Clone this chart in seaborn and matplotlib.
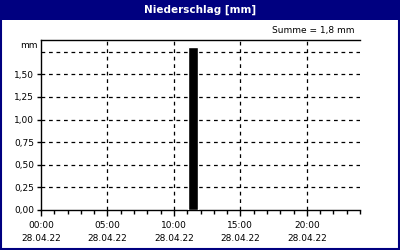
import matplotlib
matplotlib.use("Agg")
import matplotlib.pyplot as plt
import seaborn as sns
import pandas as pd
from matplotlib.patches import Rectangle
from matplotlib.ticker import MultipleLocator, FixedLocator

sns.set_theme(style="white")
plt.rcParams['font.family'] = ['DejaVu Sans']
plt.rcParams['text.color'] = 'black'
plt.rcParams['xtick.color'] = 'black'
plt.rcParams['ytick.color'] = 'black'

# data
bar_hours = [11.45]
bar_values = [1.8]
x_tick_hours = [0, 5, 10, 15, 20]
x_tick_labels = ["00:00\n28.04.22", "05:00\n28.04.22", "10:00\n28.04.22",
                 "15:00\n28.04.22", "20:00\n28.04.22"]
y_ticks = [0.0, 0.25, 0.5, 0.75, 1.0, 1.25, 1.5]
y_tick_labels = ["0,00", "0,25", "0,50", "0,75", "1,00", "1,25", "1,50"]
title = "Niederschlag [mm]"
summe_text = "Summe = 1,8 mm"
unit = "mm"

navy = "#000080"
fig = plt.figure(figsize=(4, 2.5), dpi=100)
fig.patch.set_facecolor("white")

# title bar and border
fig.patches.append(Rectangle((0, 230/250), 1, 20/250, transform=fig.transFigure,
                             facecolor=navy, edgecolor="none", zorder=0))
fig.patches.append(Rectangle((0.5/400, 1.5/250), 398/400, 247/250, transform=fig.transFigure,
                             facecolor="none", edgecolor=navy, linewidth=1.5, zorder=0))
fig.text(0.5, 240/250, title, color="white", fontsize=7.5, fontweight="bold",
         ha="center", va="center")

ax = fig.add_axes([41/400, 40/250, 319/400, 170/250])
df = pd.DataFrame({"hour": bar_hours, "value": bar_values})
sns.barplot(data=df, x="hour", y="value", native_scale=True, width=0.75,
            color="black", saturation=1, ax=ax, zorder=3)
ax.set_xlim(0, 24)
ax.set_ylim(0, 1.88)
ax.set_xlabel("")
ax.set_ylabel("")

ax.xaxis.set_major_locator(FixedLocator(x_tick_hours))
ax.set_xticklabels(x_tick_labels, fontsize=6.5, linespacing=1.55, color="black")
ax.xaxis.set_minor_locator(MultipleLocator(1))
ax.yaxis.set_major_locator(FixedLocator(y_ticks))
ax.set_yticklabels(y_tick_labels, fontsize=6.5, color="black")

ax.tick_params(axis="x", which="major", direction="out", length=4, width=1,
               color="black", pad=4, bottom=True)
ax.tick_params(axis="x", which="minor", direction="out", length=3, width=1,
               color="black", bottom=True)
ax.tick_params(axis="y", which="major", direction="out", length=3, width=1,
               color="black", pad=2, left=True)

for h in x_tick_hours[1:]:
    ax.axvline(h, color="black", linestyle=(0, (3, 3)), linewidth=0.9, zorder=1)
for v in y_ticks[1:] + [1.75]:
    ax.axhline(v, color="black", linestyle=(0, (3, 3)), linewidth=0.9, zorder=1)

for s in ["top", "left", "bottom"]:
    ax.spines[s].set_visible(True)
    ax.spines[s].set_color("black")
    ax.spines[s].set_linewidth(1)
ax.spines["right"].set_visible(False)
ax.set_facecolor("white")

fig.text(38/400, (250-45)/250, unit, fontsize=6.5, ha="right", va="center", color="black")
fig.text(355/400, (250-31)/250, summe_text, fontsize=6.5, ha="right", va="center", color="black")

fig.savefig("out.png", dpi=100)
